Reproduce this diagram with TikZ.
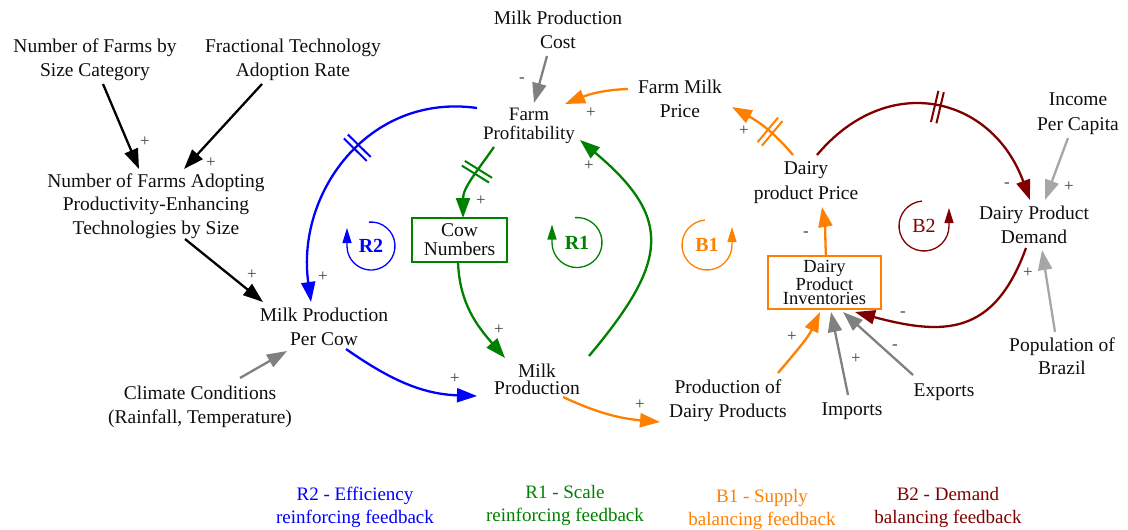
\documentclass[tikz,border=0pt]{standalone}
\usepackage{fontspec}
\setmainfont{Liberation Serif}
\usetikzlibrary{arrows.meta,decorations.markings}

\definecolor{cblue}{RGB}{0,0,255}
\definecolor{cgreen}{RGB}{0,128,0}
\definecolor{corange}{RGB}{255,128,0}
\definecolor{cred}{RGB}{128,0,0}
\definecolor{cgray}{RGB}{128,128,128}
\definecolor{clgray}{RGB}{166,166,166}
\definecolor{ctext}{RGB}{15,15,15}

\tikzset{
  lbl/.style={align=center, inner sep=1pt, font=\fontsize{19.5}{24}\selectfont, text=ctext},
  sgn/.style={inner sep=0pt, font=\fontsize{17}{17}\selectfont, text=black!75},
  link/.style={line width=2.3pt, -{Triangle[length=20pt,width=14pt]}},
  stock/.style={draw, line width=2.2pt, align=center, inner sep=0pt, text=ctext},
  loopsym/.style={line width=1.3pt, -{Triangle[length=15pt,width=9pt]}},
  loopname/.style={font=\fontsize{20}{20}\selectfont\bfseries, inner sep=0pt},
  legend/.style={align=center, inner sep=1pt, font=\fontsize{19}{23}\selectfont},
  delaymark/.style 2 args={postaction={decorate, decoration={markings,
      mark=at position #1 with {\draw[-, #2, line width=2pt]
        (-2.8pt,-16pt) -- (-2.8pt,16pt) (2.8pt,-16pt) -- (2.8pt,16pt);}}}},
}

\begin{document}
\begin{tikzpicture}[x=1pt,y=1pt]
\useasboundingbox (0,0) rectangle (1128,-530);

% ---------- variables ----------
\node[lbl] (nfs) at (95,-60) {Number of Farms by\\Size Category};
\node[lbl] (fta) at (293,-60) {Fractional Technology\\Adoption Rate};
\node[lbl] (mpc) at (558,-30) {Milk Production\\Cost};
\node[lbl] (fmp) at (680,-99) {Farm Milk\\Price};
\node[lbl, font=\fontsize{19}{18.5}\selectfont] (fp) at (529,-126) {Farm\\Profitability};
\node[lbl, font=\fontsize{19.5}{23.5}\selectfont] (nfa) at (156,-206) {Number of Farms Adopting\\Productivity-Enhancing\\Technologies by Size};
\node[stock, draw=cgreen, minimum width=95pt, minimum height=44pt,
      font=\fontsize{19.5}{19}\selectfont] (cow) at (459.5,-240) {Cow\\Numbers};
\node[lbl] (mppc) at (324,-327) {Milk Production\\Per Cow};
\node[lbl] (cc) at (200,-407) {Climate Conditions\\(Rainfall, Temperature)};
\node[lbl, font=\fontsize{19.5}{17.5}\selectfont] (mp) at (537,-379.5) {Milk\\Production};
\node[lbl] (pdp) at (728,-401) {Production of\\Dairy Products};
\node[lbl] (imp) at (852,-411) {Imports};
\node[lbl] (exp) at (944,-392) {Exports};
\node[lbl, font=\fontsize{19.5}{23}\selectfont] (pob) at (1062,-356) {Population of\\Brazil};
\node[lbl, font=\fontsize{19.5}{25}\selectfont] (dpp) at (806,-183) {Dairy\\product Price};
\node[lbl] (dpd) at (1034,-225) {Dairy Product\\Demand};
\node[lbl, font=\fontsize{19.5}{25}\selectfont] (ipc) at (1078,-114) {Income\\Per Capita};
\node[stock, draw=corange, minimum width=113pt, minimum height=53pt,
      font=\fontsize{18.5}{14.5}\selectfont] (inv) at (824.5,-282.5) {Dairy\\Product\\Inventories};

% ---------- loop markers ----------
\node[loopname, text=cblue] (r2) at (371,-246) {R2};
\draw[loopsym, cblue] ([shift={(95:24)}]r2.center) arc[start angle=95, end angle=-180, radius=24] -- ++(0,18);
\node[loopname, text=cgreen] (r1) at (577,-242.5) {R1};
\draw[loopsym, cgreen] ([shift={(95:25)}]r1.center) arc[start angle=95, end angle=-180, radius=25] -- ++(0,18);
\node[loopname, text=corange] (b1) at (707,-245) {B1};
\draw[loopsym, corange] ([shift={(95:25)}]b1.center) arc[start angle=95, end angle=360, radius=25] -- ++(0,18);
\node[loopname, font=\fontsize{20}{20}\selectfont, text=cred] (b2) at (924,-226) {B2};
\draw[loopsym, cred] ([shift={(95:25)}]b2.center) arc[start angle=95, end angle=360, radius=25] -- ++(0,18);

% ---------- causal links ----------
\draw[link, black] ([shift={(8,-24)}]nfs.center) -- ([shift={(-17,37)}]nfa.center);
\draw[link, black] ([shift={(-31,-24)}]fta.center) -- ([shift={(28,37)}]nfa.center);
\draw[link, black] ([shift={(29,-33)}]nfa.center) -- ([shift={(-61,25)}]mppc.center);
\draw[link, cgray] ([shift={(40,29)}]cc.center) -- ([shift={(-37,-24)}]mppc.center);
\draw[link, cblue, delaymark={0.44}{cblue}] ([shift={(-52,18)}]fp.center)
   to[out=172, in=98, looseness=1.1] ([shift={(-13,25)}]mppc.center);
\draw[link, cgreen, delaymark={0.38}{cgreen}] ([shift={(-35,-21)}]fp.center)
   to[out=235, in=90] ([shift={(3.5,22)}]cow.center);
\draw[link, cgreen] ([shift={(-1.5,-22)}]cow.center) to[out=-88, in=131] ([shift={(-32,21.5)}]mp.center);
\draw[link, cgreen] ([shift={(52,23.5)}]mp.center) to[out=50, in=-40, looseness=1.45] ([shift={(51,-14)}]fp.center);
\draw[link, cblue] ([shift={(22,-22)}]mppc.center) to[out=-35, in=178] ([shift={(-60,-16.5)}]mp.center);
\draw[link, corange] ([shift={(26,-17.5)}]mp.center) to[out=-25, in=175] ([shift={(-68,-21)}]pdp.center);
\draw[link, corange] ([shift={(50,28)}]pdp.center) to[out=50, in=-115] ([shift={(-4.5,-29.5)}]inv.center);
\draw[link, cgray] ([shift={(-4,16)}]imp.center) -- ([shift={(6.5,-29.5)}]inv.center);
\draw[link, cgray] ([shift={(-31,17)}]exp.center) -- ([shift={(18.5,-29.5)}]inv.center);
\draw[link, cred] ([shift={(-8,-23)}]dpd.center) to[out=-110, in=-15, looseness=1.3] ([shift={(30.5,-29.5)}]inv.center);
\draw[link, corange] ([shift={(1.5,26.5)}]inv.center) to[out=93, in=-80] ([shift={(16,-24)}]dpp.center);
\draw[link, corange, delaymark={0.42}{corange}] ([shift={(-13,28)}]dpp.center)
   to[out=130, in=-29] ([shift={(52,-8)}]fmp.center);
\draw[link, corange] ([shift={(-52,10)}]fmp.center) to[out=182, in=22] ([shift={(36,22)}]fp.center);
\draw[link, cgray] ([shift={(-11,-26)}]mpc.center) -- ([shift={(5,23)}]fp.center);
\draw[link, cred, delaymark={0.5}{cred}] ([shift={(11,28)}]dpp.center)
   to[out=50, in=110, looseness=1.3] ([shift={(-4,25)}]dpd.center);
\draw[link, clgray] ([shift={(-10,-24)}]ipc.center) -- ([shift={(11,25)}]dpd.center);
\draw[link, clgray] ([shift={(-7,24)}]pob.center) -- ([shift={(8,-25)}]dpd.center);

% ---------- polarities ----------
\node[sgn] (s1) at (145,-142) {+};
\node[sgn] (s2) at (211,-163) {+};
\node[sgn] (s3) at (252,-275) {+};
\node[sgn] (s4) at (323,-277) {+};
\node[sgn] (s5) at (481,-201) {+};
\node[sgn] (s6) at (499,-330) {+};
\node[sgn] (s7) at (589,-166) {+};
\node[sgn] (s8) at (455,-379) {+};
\node[sgn] (s9) at (640,-405) {+};
\node[sgn] (s10) at (792,-337) {+};
\node[sgn] (s11) at (856,-359) {+};
\node[sgn] (s12) at (895,-347) {-};
\node[sgn] (s13) at (903,-314) {-};
\node[sgn] (s14) at (806,-234) {-};
\node[sgn] (s15) at (744,-131) {+};
\node[sgn] (s16) at (591,-113) {+};
\node[sgn] (s17) at (522,-80) {-};
\node[sgn] (s18) at (1007,-185) {-};
\node[sgn] (s19) at (1069,-187) {+};
\node[sgn] (s20) at (1028,-273) {+};

% ---------- legend ----------
\node[legend, text=cblue] (legR2) at (355,-507) {R2 - Efficiency\\reinforcing feedback};
\node[legend, text=cgreen] (legR1) at (565,-505) {R1 - Scale\\reinforcing feedback};
\node[legend, text=corange] (legB1) at (762,-509) {B1 - Supply\\balancing feedback};
\node[legend, text=cred] (legB2) at (948,-507) {B2 - Demand\\balancing feedback};
\end{tikzpicture}
\end{document}
